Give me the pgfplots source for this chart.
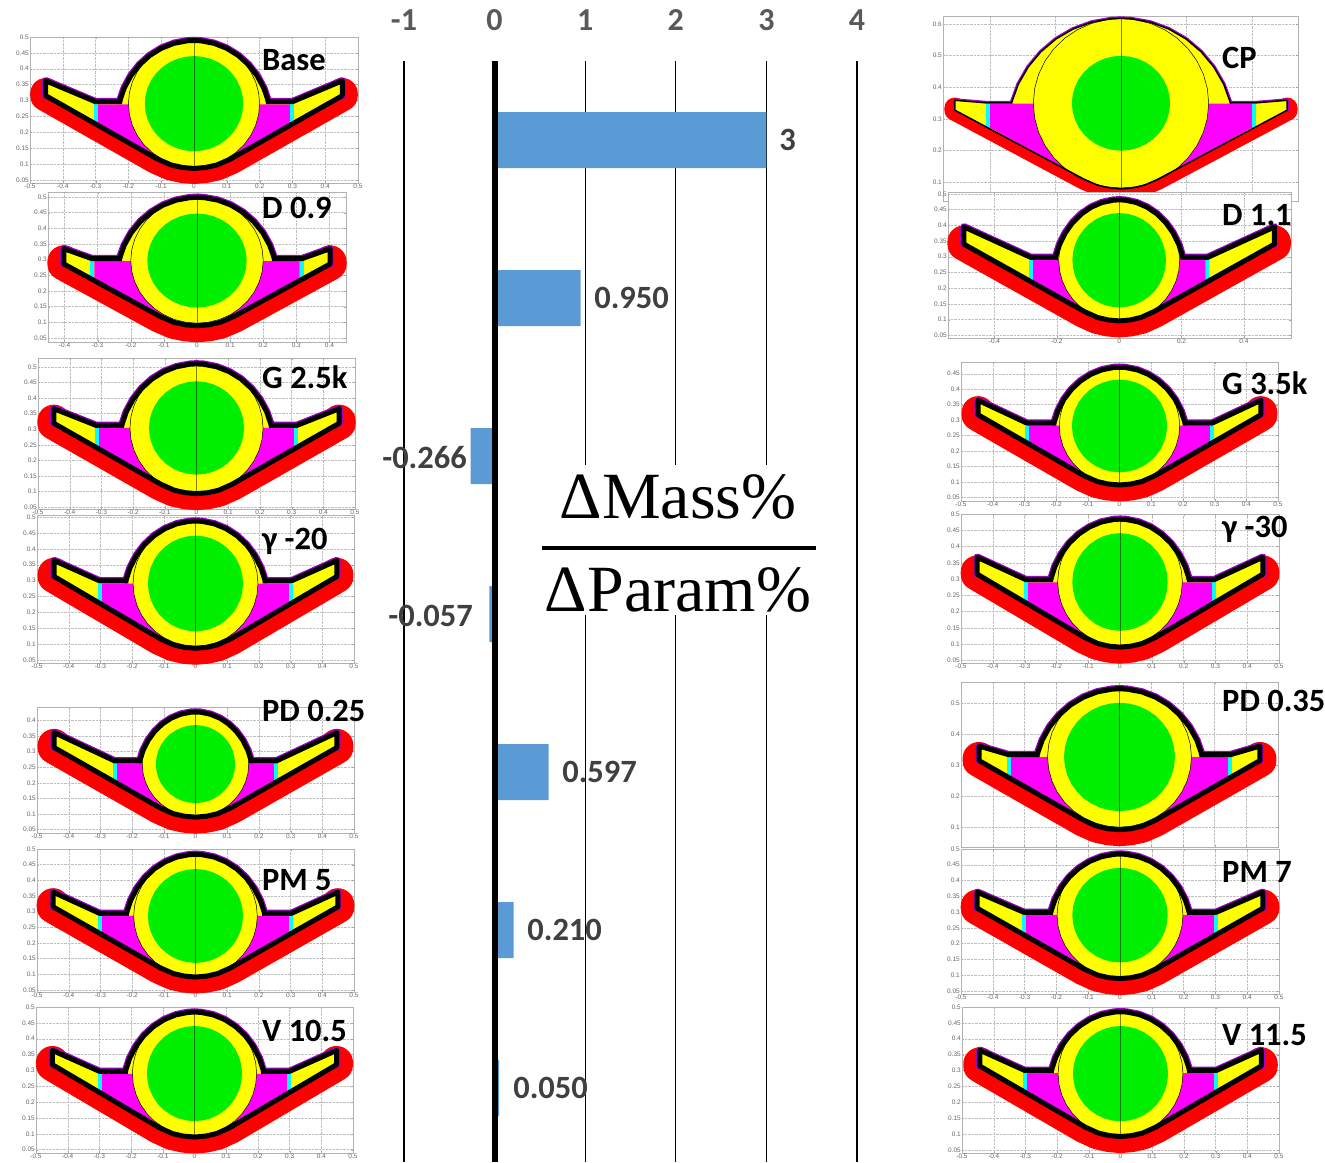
\documentclass[border=0pt]{standalone}
\usepackage{fontspec}
\setmainfont{Carlito}
\newfontfamily\titlefont{Liberation Serif}
\newfontfamily\smallfont{Liberation Sans}
\usepackage{pgfplots}
\usepackage{pgfplotstable}
\pgfplotsset{compat=1.18}
\definecolor{barblue}{HTML}{5B9BD5}
\definecolor{tickgray}{HTML}{595959}
\definecolor{valgray}{HTML}{404040}
\definecolor{hullred}{HTML}{FF0000}
\definecolor{hullyel}{HTML}{FFFF00}
\definecolor{hullmag}{HTML}{FF00FF}
\definecolor{hullgrn}{HTML}{00EE00}
\definecolor{hullcya}{HTML}{00FFFF}
\definecolor{hullpur}{HTML}{A000C8}

\pgfplotstableread{
x y
1.0000 0.0000
0.9848 0.1736
0.9397 0.3420
0.8660 0.5000
0.7660 0.6428
0.6428 0.7660
0.5000 0.8660
0.3420 0.9397
0.1736 0.9848
0.0000 1.0000
-0.1736 0.9848
-0.3420 0.9397
-0.5000 0.8660
-0.6428 0.7660
-0.7660 0.6428
-0.8660 0.5000
-0.9397 0.3420
-0.9848 0.1736
-1.0000 0.0000
-0.9848 -0.1736
-0.9397 -0.3420
-0.8660 -0.5000
-0.7660 -0.6428
-0.6428 -0.7660
-0.5000 -0.8660
-0.3420 -0.9397
-0.1736 -0.9848
0.0000 -1.0000
0.1736 -0.9848
0.3420 -0.9397
0.5000 -0.8660
0.6428 -0.7660
0.7660 -0.6428
0.8660 -0.5000
0.9397 -0.3420
0.9848 -0.1736
1.0000 0.0000
}\unitcircle

\pgfplotstableread{
x y
-1.0000 0.0000
-0.9383 0.2210
-0.8481 0.4247
-0.7321 0.6048
-0.5938 0.7561
-0.4375 0.8736
-0.2679 0.9540
-0.0902 0.9949
0.0000 1.0000
0.0902 0.9949
0.2679 0.9540
0.4375 0.8736
0.5938 0.7561
0.7321 0.6048
0.8481 0.4247
0.9383 0.2210
1.0000 0.0000
}\unitdome

\pgfplotstableread{
cat value
0 3
1 0.950
2 -0.266
3 -0.057
4 0.597
5 0.210
6 0.050
}\massdata

% frame in picture units, and axis limits
\newcommand\setframe[8]{\def\pL{#1}\def\pR{#2}\def\pT{#3}\def\pB{#4}\def\xL{#5}\def\xR{#6}\def\yB{#7}\def\yT{#8}}
% outer edges: tip x, tip top, tip bottom; centre line: knee x, flat y; outer edges: dome half width, dome top, hull bottom; circle centre y
\newcommand\setshape[9]{\def\rTx{#1}\def\rTt{#2}\def\Tb{#3}\def\Kx{#4}\def\Fl{#5}\def\rDw{#6}\def\rDt{#7}\def\rBt{#8}\def\Cy{#9}}
% green radius, yellow radius, black width, red width
\newcommand\setcirc[4]{\def\Rg{#1}\def\Ry{#2}\def\Bw{#3}\def\Rw{#4}}
\newcommand\panelopts{}

\newcommand\drawpanel[2]{%
 \pgfmathsetmacro\pW{\pR-\pL}\pgfmathsetmacro\pH{\pB-\pT}\pgfmathsetmacro\pY{1162-\pB}%
 \pgfmathsetmacro\Off{0.0016*\Bw}%
 \pgfmathsetmacro\Tx{\rTx-\Off}\pgfmathsetmacro\Tt{\rTt-0.25*\Off}%
 \pgfmathsetmacro\Dw{\rDw-\Off}\pgfmathsetmacro\Dt{\rDt-\Off}\pgfmathsetmacro\Bt{\rBt+0.6*\Off}%
 \pgfmathsetmacro\Xa{0.112}\pgfmathsetmacro\Ya{\Bt+0.03}%
 \pgfmathsetmacro\Xb{0.07}\pgfmathsetmacro\Yb{\Bt+0.011}%
 \pgfmathsetmacro\Xc{0.035}\pgfmathsetmacro\Yc{\Bt+0.003}%
 \pgfmathsetmacro\Yk{\Tb+(\Ya-\Tb)*(\Tx-\Kx)/(\Tx-\Xa)}%
 \pgfmathsetmacro\Tc{\Tb+0.007}%
 \pgfmathsetmacro\Mt{\Fl-\Off}%
 \pgfmathsetmacro\Ki{\Kx-0.007}\pgfmathsetmacro\Ko{\Kx+0.005}%
 \pgfmathsetmacro\Pw{\Bw+2.5}%
 \begin{axis}[
   at={(\pL pt,\pY pt)},anchor=south west,
   width=\pW pt,height=\pH pt,scale only axis,
   xmin=\xL,xmax=\xR,ymin=\yB,ymax=\yT,clip=false,
   axis background/.style={fill=white},
   axis line style={black!30,line width=.6pt},
   xtick={#1},ytick={#2},
   grid=major,grid style={densely dotted,black!25,line width=.35pt},
   major tick length=2pt,tick style={black!35},
   scaled ticks=false,
   tick label style={font=\smallfont\fontsize{6.5}{7}\selectfont,text=black!60,inner sep=1pt,
     /pgf/number format/assume math mode=true,/pgf/number format/fixed,/pgf/number format/precision=2},
   every axis plot/.append style={no markers,line join=round,line cap=round},
   \panelopts
 ]
 \addplot[hullred,line width=\Rw pt] coordinates {(-\Tx,\Tc)(-\Tx,\Tb)(-\Xa,\Ya)(-\Xb,\Yb)(-\Xc,\Yc)(0,\Bt)(\Xc,\Yc)(\Xb,\Yb)(\Xa,\Ya)(\Tx,\Tb)(\Tx,\Tc)};
 \addplot[hullpur,line width=\Pw pt] coordinates {(-\Tx,\Tb)(-\Tx,\Tt)(-\Kx,\Fl)(-\Dw,\Fl)};
 \addplot[hullpur,line width=\Pw pt] coordinates {(\Tx,\Tb)(\Tx,\Tt)(\Kx,\Fl)(\Dw,\Fl)};
 \addplot[hullpur,line width=\Pw pt] table[x expr=\Dw*\thisrow{x},y expr=\Fl+(\Dt-\Fl)*\thisrow{y}] {\unitdome};
 \addplot[fill=hullyel,draw=none] coordinates {(-\Tx,\Tb)(-\Tx,\Tt)(-\Kx,\Fl)(\Kx,\Fl)(\Tx,\Tt)(\Tx,\Tb)(\Xa,\Ya)(\Xb,\Yb)(\Xc,\Yc)(0,\Bt)(-\Xc,\Yc)(-\Xb,\Yb)(-\Xa,\Ya)};
 \addplot[fill=hullyel,draw=none] table[x expr=\Dw*\thisrow{x},y expr=\Fl+(\Dt-\Fl)*\thisrow{y}] {\unitdome};
 \addplot[fill=hullmag,draw=none] coordinates {(-\Ki,\Mt)(\Ki,\Mt)(\Ki,\Yk)(\Xa,\Ya)(-\Xa,\Ya)(-\Ki,\Yk)};
 \addplot[fill=hullcya,draw=none] coordinates {(-\Ko,\Mt)(-\Ki,\Mt)(-\Ki,\Yk)(-\Ko,\Yk)};
 \addplot[fill=hullcya,draw=none] coordinates {(\Ko,\Mt)(\Ki,\Mt)(\Ki,\Yk)(\Ko,\Yk)};
 \addplot[fill=hullyel,draw=black,line width=.5pt] table[x expr=\Ry*\thisrow{x},y expr=\Cy+\Ry*\thisrow{y}] {\unitcircle};
 \addplot[fill=hullgrn,draw=none] table[x expr=\Rg*\thisrow{x},y expr=\Cy+\Rg*\thisrow{y}] {\unitcircle};
 \addplot[black,opacity=.5,line width=.6pt] coordinates {(0,\Bt)(0,\Dt)};
 \addplot[black,line width=\Bw pt,line cap=rect] coordinates {(-\Dw,\Fl)(-\Kx,\Fl)(-\Tx,\Tt)(-\Tx,\Tb)(-\Xa,\Ya)(-\Xb,\Yb)(-\Xc,\Yc)(0,\Bt)(\Xc,\Yc)(\Xb,\Yb)(\Xa,\Ya)(\Tx,\Tb)(\Tx,\Tt)(\Kx,\Fl)(\Dw,\Fl)};
 \addplot[black,line width=\Bw pt] table[x expr=\Dw*\thisrow{x},y expr=\Fl+(\Dt-\Fl)*\thisrow{y}] {\unitdome};
 \end{axis}%
}
\newcommand\panellabel[3]{\node[anchor=west,inner sep=0pt,font=\fontsize{32.5}{38}\selectfont\bfseries,text=black] at (#1pt,{(1162-#2)*1pt}) {#3};}
\newcommand\vallabel[3]{\node[font=\fontsize{32.5}{38}\selectfont\bfseries,text=valgray] at (axis cs:#1,#2) {#3};}

\def\XA{-0.5,-0.4,-0.3,-0.2,-0.1,0,0.1,0.2,0.3,0.4,0.5}
\def\XB{-0.4,-0.2,0,0.2,0.4}
\def\YA{0.05,0.1,0.15,0.2,0.25,0.3,0.35,0.4,0.45,0.5}
\def\YB{0.1,0.2,0.3,0.4,0.5,0.6}

\begin{document}
\begin{tikzpicture}[x=1pt,y=1pt]
\path[use as bounding box] (0,0) rectangle (1325pt,1162pt);

% central bar chart
\begin{axis}[
  at={(404pt,0pt)},anchor=south west,
  width=453pt,height=1101pt,scale only axis,
  xmin=-1,xmax=4,ymin=-0.5,ymax=6.468,y dir=reverse,
  xtick={-1,0,1,2,3,4},xticklabels={-1,0,1,2,3,4},
  ytick=\empty,
  xticklabel pos=upper,
  axis line style={draw=none},tick style={draw=none},
  xmajorgrids,grid style={black,line width=1.3pt},
  xticklabel style={font=\fontsize{32}{38}\selectfont\bfseries,text=tickgray,yshift=27pt},
  clip=false,
]
\addplot[xbar,bar width=56pt,bar shift=0pt,fill=barblue,draw=none] table[x=value,y=cat] {\massdata};
\addplot[black,line width=6pt,no markers] coordinates {(0,-0.5)(0,6.468)};
\vallabel{3.234}{0}{3}
\vallabel{1.512}{1}{0.950}
\vallabel{-0.773}{2.01}{-0.266}
\vallabel{-0.706}{3.01}{-0.057}
\vallabel{1.159}{4}{0.597}
\vallabel{0.773}{5}{0.210}
\vallabel{0.618}{6}{0.050}
\end{axis}

\fill[white] (540pt,547pt) rectangle (818pt,697pt);
\node[font=\titlefont\fontsize{66}{72}\selectfont] at (678pt,665pt) {ΔMass\%};
\node[font=\titlefont\fontsize{66}{72}\selectfont] at (678pt,572pt) {ΔParam\%};
\fill[black] (542pt,612pt) rectangle (816pt,616pt);

% left column
\setframe{30}{358}{37}{183}{-0.5}{0.5}{0.04}{0.5}
\setshape{0.46}{0.364}{0.315}{0.30}{0.296}{0.235}{0.497}{0.081}{0.29}
\setcirc{0.15}{0.2}{5}{31}
\drawpanel{\XA}{\YA}

\setframe{48}{346}{192}{342}{-0.45}{0.45}{0.037}{0.516}
\setshape{0.41}{0.337}{0.286}{0.317}{0.303}{0.242}{0.507}{0.084}{0.297}
\setcirc{0.15}{0.2}{5}{33}
\drawpanel{-0.4,-0.3,-0.2,-0.1,0,0.1,0.2,0.3,0.4}{\YA}

\setframe{38}{355}{358}{509}{-0.5}{0.5}{0.0435}{0.529}
\setshape{0.458}{0.368}{0.319}{0.316}{0.312}{0.244}{0.518}{0.088}{0.304}
\setcirc{0.15}{0.21}{5}{33}
\drawpanel{\XA}{\YA}

\setframe{37}{354}{515}{663}{-0.5}{0.5}{0.0416}{0.506}
\setshape{0.454}{0.365}{0.313}{0.302}{0.299}{0.228}{0.495}{0.083}{0.291}
\setcirc{0.15}{0.197}{5}{33}
\drawpanel{\XA}{\YA}

\setframe{37}{354}{707}{833}{-0.5}{0.5}{0.039}{0.443}
\setshape{0.454}{0.363}{0.313}{0.255}{0.27}{0.184}{0.435}{0.085}{0.26}
\setcirc{0.125}{0.168}{5}{33}
\drawpanel{\XA}{\YA}

\setframe{37}{354}{849}{992}{-0.5}{0.5}{0.043}{0.5}
\setshape{0.457}{0.364}{0.315}{0.302}{0.294}{0.226}{0.491}{0.086}{0.286}
\setcirc{0.15}{0.195}{5}{33}
\drawpanel{\XA}{\YA}

\setframe{36}{353}{1007}{1153}{-0.5}{0.5}{0.0395}{0.5}
\setshape{0.456}{0.365}{0.318}{0.30}{0.297}{0.226}{0.492}{0.085}{0.29}
\setcirc{0.15}{0.196}{5}{33}
\drawpanel{\XA}{\YA}

% right column
\renewcommand\panelopts{xticklabels={}}
\setframe{943}{1298}{16}{201}{-0.544}{0.541}{0.04}{0.625}
\setshape{0.51}{0.359}{0.327}{0.408}{0.35}{0.337}{0.62}{0.077}{0.349}
\setcirc{0.15}{0.268}{1.5}{21}
\drawpanel{\XB}{\YB}
\renewcommand\panelopts{}

\setframe{948}{1291}{192}{338}{-0.549}{0.551}{0.0415}{0.506}
\setshape{0.506}{0.397}{0.34}{0.284}{0.298}{0.212}{0.489}{0.091}{0.289}
\setcirc{0.15}{0.194}{5}{33}
\drawpanel{\XB}{\YA}

\setframe{961}{1278}{362}{501}{-0.5}{0.5}{0.038}{0.488}
\setshape{0.454}{0.366}{0.317}{0.292}{0.29}{0.215}{0.479}{0.085}{0.281}
\setcirc{0.15}{0.19}{5}{33}
\drawpanel{\XA}{\YA}

\setframe{961}{1279}{514}{663}{-0.5}{0.5}{0.042}{0.5}
\setshape{0.457}{0.369}{0.315}{0.296}{0.298}{0.226}{0.492}{0.086}{0.291}
\setcirc{0.15}{0.196}{5}{33}
\drawpanel{\XA}{\YA}

\renewcommand\panelopts{xticklabels={}}
\setframe{961}{1278}{682}{847}{-0.5}{0.5}{0.035}{0.568}
\setshape{0.451}{0.363}{0.314}{0.349}{0.333}{0.268}{0.554}{0.086}{0.326}
\setcirc{0.175}{0.227}{5}{33}
\drawpanel{\XA}{\YB}
\renewcommand\panelopts{}

\setframe{961}{1279}{849}{994}{-0.5}{0.5}{0.04}{0.5}
\setshape{0.457}{0.365}{0.312}{0.302}{0.299}{0.226}{0.492}{0.084}{0.29}
\setcirc{0.15}{0.198}{5}{33}
\drawpanel{\XA}{\YA}

\setframe{962}{1279}{1007}{1153}{-0.5}{0.5}{0.04}{0.5}
\setshape{0.452}{0.366}{0.314}{0.302}{0.30}{0.226}{0.493}{0.087}{0.29}
\setcirc{0.15}{0.197}{5}{33}
\drawpanel{\XA}{\YA}

% labels
\panellabel{262}{60}{Base}
\panellabel{262}{208}{D 0.9}
\panellabel{262}{377}{G 2.5k}
\panellabel{262}{541}{γ -20}
\panellabel{262}{711}{PD 0.25}
\panellabel{262}{880}{PM 5}
\panellabel{262}{1031}{V 10.5}
\panellabel{1222}{58}{CP}
\panellabel{1222}{215}{D 1.1}
\panellabel{1222}{383}{G 3.5k}
\panellabel{1222}{529}{γ -30}
\panellabel{1222}{701}{PD 0.35}
\panellabel{1222}{872}{PM 7}
\panellabel{1222}{1035}{V 11.5}
\end{tikzpicture}
\end{document}
